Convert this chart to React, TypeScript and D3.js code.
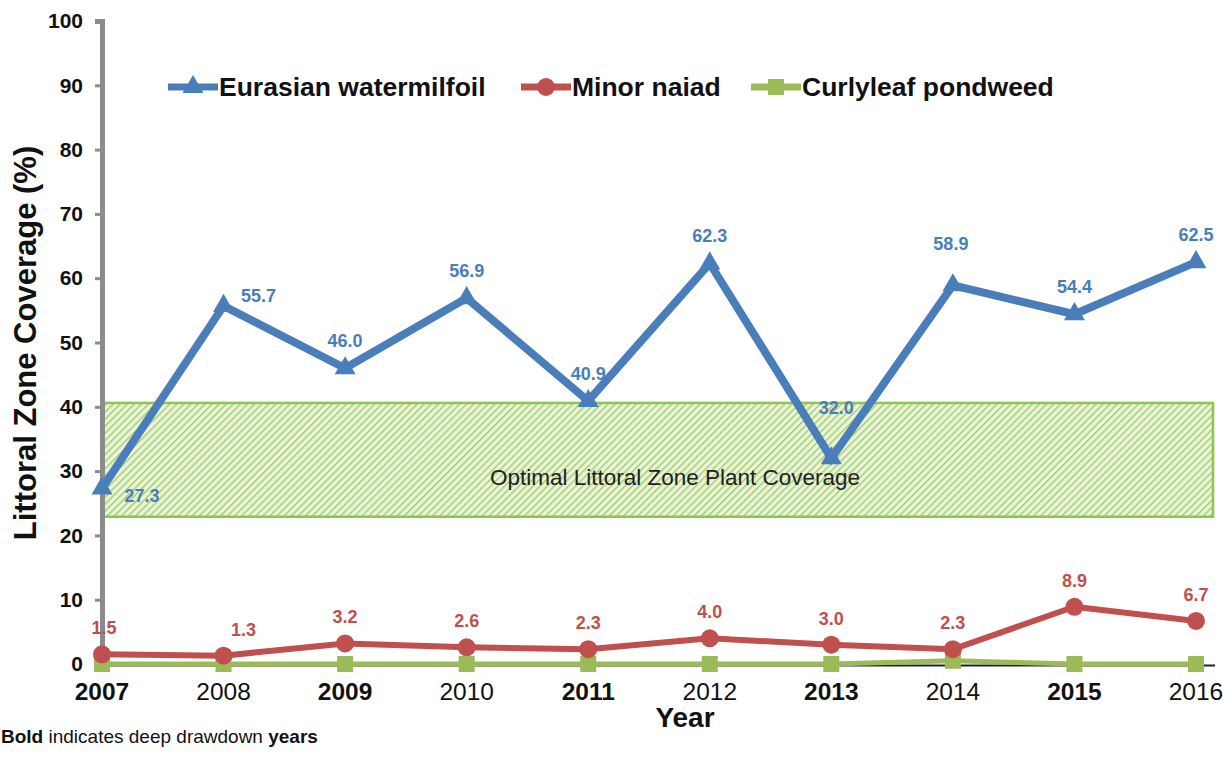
import React, { useEffect, useRef } from "react";
import * as d3 from "d3";

const years = ["2007", "2008", "2009", "2010", "2011", "2012", "2013", "2014", "2015", "2016"];
const deepYears = ["2007", "2009", "2011", "2013", "2015"];
const milfoil = [27.3, 55.7, 46.0, 56.9, 40.9, 62.3, 32.0, 58.9, 54.4, 62.5];
const naiad = [1.5, 1.3, 3.2, 2.6, 2.3, 4.0, 3.0, 2.3, 8.9, 6.7];
const pondweed = [0, 0, 0, 0, 0, 0, 0, 0.5, 0, 0];
const yTicks = [0, 10, 20, 30, 40, 50, 60, 70, 80, 90, 100];
const optimalBand = [22.9, 40.6];

const BLUE = "#4a7ebb";
const RED = "#c0504d";
const GREEN = "#9bbb59";

const App = () => {
  const ref = useRef<SVGSVGElement>(null);

  useEffect(() => {
    const svg = d3.select(ref.current);
    svg.selectAll("*").remove();

    const x = d3.scalePoint().domain(years).range([102, 1196]);
    const y = d3.scaleLinear().domain([0, 100]).range([664, 21]);
    const font = "Liberation Sans, Arial, sans-serif";

    const defs = svg.append("defs");
    const pat = defs.append("pattern")
      .attr("id", "hatch")
      .attr("patternUnits", "userSpaceOnUse")
      .attr("width", 5)
      .attr("height", 5)
      .attr("patternTransform", "rotate(45)");
    pat.append("rect").attr("width", 5).attr("height", 5).attr("fill", "#eaf4da");
    pat.append("line").attr("x1", 0).attr("y1", 0).attr("x2", 0).attr("y2", 5)
      .attr("stroke", "#9ccb5e").attr("stroke-width", 2.6);

    // optimal band
    svg.append("rect")
      .attr("x", 102)
      .attr("y", y(optimalBand[1]))
      .attr("width", 1213 - 102)
      .attr("height", y(optimalBand[0]) - y(optimalBand[1]))
      .attr("fill", "url(#hatch)")
      .attr("stroke", "#8cc551")
      .attr("stroke-width", 2.5);
    svg.append("text")
      .attr("x", 675)
      .attr("y", 485)
      .attr("text-anchor", "middle")
      .attr("font-family", font)
      .attr("font-size", 22.5)
      .attr("fill", "#222")
      .text("Optimal Littoral Zone Plant Coverage");

    // y axis
    const yAxis = svg.append("g")
      .attr("transform", "translate(102,0)")
      .call(d3.axisLeft(y).tickValues(yTicks).tickSize(7).tickPadding(12));
    yAxis.select(".domain").attr("stroke", "#8c8c8c").attr("stroke-width", 5);
    yAxis.selectAll(".tick line").attr("stroke", "#8c8c8c").attr("stroke-width", 3);
    yAxis.selectAll(".tick text")
      .attr("font-family", font)
      .attr("font-size", 21)
      .attr("font-weight", "bold")
      .attr("fill", "#111");

    // x axis
    svg.append("line")
      .attr("x1", 102).attr("x2", 1215)
      .attr("y1", y(0) + 1.5).attr("y2", y(0) + 1.5)
      .attr("stroke", "#222").attr("stroke-width", 2);
    svg.append("g").selectAll("text").data(years).join("text")
      .attr("x", d => x(d)!)
      .attr("y", 700)
      .attr("text-anchor", "middle")
      .attr("font-family", font)
      .attr("font-size", 24.5)
      .attr("font-weight", d => (deepYears.includes(d) ? "bold" : "normal"))
      .attr("fill", "#111")
      .text(d => d);

    const line = d3.line<number>().x((_, i) => x(years[i])!).y(d => y(d));

    // curlyleaf pondweed
    svg.append("path").datum(pondweed).attr("d", line)
      .attr("fill", "none").attr("stroke", GREEN).attr("stroke-width", 5);
    svg.append("g").selectAll("rect").data(pondweed).join("rect")
      .attr("x", (_, i) => x(years[i])! - 8)
      .attr("y", d => y(d) - 8)
      .attr("width", 16).attr("height", 16)
      .attr("fill", GREEN);

    // minor naiad
    svg.append("path").datum(naiad).attr("d", line)
      .attr("fill", "none").attr("stroke", RED).attr("stroke-width", 6);
    svg.append("g").selectAll("circle").data(naiad).join("circle")
      .attr("cx", (_, i) => x(years[i])!)
      .attr("cy", d => y(d))
      .attr("r", 9)
      .attr("fill", RED);
    svg.append("g").selectAll("text").data(naiad).join("text")
      .attr("x", (_, i) => x(years[i])! + (i === 0 ? 2 : i === 1 ? 20 : 0))
      .attr("y", d => y(d) - 20)
      .attr("text-anchor", "middle")
      .attr("font-family", font)
      .attr("font-size", 18)
      .attr("font-weight", "bold")
      .attr("fill", RED)
      .text(d => d.toFixed(1));

    // eurasian watermilfoil
    svg.append("path").datum(milfoil).attr("d", line)
      .attr("fill", "none").attr("stroke", BLUE).attr("stroke-width", 8)
      .attr("stroke-linejoin", "miter");
    const tri = d3.symbol().type(d3.symbolTriangle).size(190);
    svg.append("g").selectAll("path").data(milfoil).join("path")
      .attr("d", tri)
      .attr("transform", (d, i) => `translate(${x(years[i])},${y(d)})`)
      .attr("fill", BLUE);
    const labelOffset = (i: number) => {
      if (i === 0) return [40, 14];
      if (i === 1) return [35, -4];
      if (i === 6) return [5, -44];
      if (i === 7) return [-2, -35];
      return [0, -21];
    };
    svg.append("g").selectAll("text").data(milfoil).join("text")
      .attr("x", (_, i) => x(years[i])! + labelOffset(i)[0])
      .attr("y", (d, i) => y(d) + labelOffset(i)[1])
      .attr("text-anchor", "middle")
      .attr("font-family", font)
      .attr("font-size", 18)
      .attr("font-weight", "bold")
      .attr("fill", BLUE)
      .text(d => d.toFixed(1));

    // legend
    const legend = [
      { name: "Eurasian watermilfoil", color: BLUE, x0: 168, shape: "tri" },
      { name: "Minor naiad", color: RED, x0: 521, shape: "circle" },
      { name: "Curlyleaf pondweed", color: GREEN, x0: 751, shape: "square" },
    ];
    const lg = svg.append("g").selectAll("g").data(legend).join("g")
      .attr("transform", d => `translate(${d.x0},87)`);
    lg.append("line").attr("x1", 0).attr("x2", 50).attr("y1", 0).attr("y2", 0)
      .attr("stroke", d => d.color).attr("stroke-width", 7);
    lg.each(function (d) {
      const g = d3.select(this);
      if (d.shape === "tri") {
        g.append("path").attr("d", tri).attr("transform", "translate(25,0)").attr("fill", d.color);
      } else if (d.shape === "circle") {
        g.append("circle").attr("cx", 25).attr("r", 9).attr("fill", d.color);
      } else {
        g.append("rect").attr("x", 17).attr("y", -8).attr("width", 16).attr("height", 16).attr("fill", d.color);
      }
    });
    lg.append("text")
      .attr("x", 51).attr("y", 9)
      .attr("font-family", font)
      .attr("font-size", 26.5)
      .attr("font-weight", "bold")
      .attr("fill", "#111")
      .text(d => d.name);

    // axis titles
    svg.append("text")
      .attr("transform", "translate(36,343) rotate(-90)")
      .attr("text-anchor", "middle")
      .attr("font-family", font)
      .attr("font-size", 31)
      .attr("font-weight", "bold")
      .attr("fill", "#111")
      .text("Littoral Zone Coverage (%)");
    svg.append("text")
      .attr("x", 685).attr("y", 727)
      .attr("text-anchor", "middle")
      .attr("font-family", font)
      .attr("font-size", 28)
      .attr("font-weight", "bold")
      .attr("fill", "#111")
      .text("Year");

    // footnote
    const note = svg.append("text")
      .attr("x", 1).attr("y", 743)
      .attr("font-family", font)
      .attr("font-size", 19)
      .attr("fill", "#111");
    note.append("tspan").attr("font-weight", "bold").text("Bold");
    note.append("tspan").text(" indicates deep drawdown ");
    note.append("tspan").attr("font-weight", "bold").text("years");
  }, []);

  return (
    <svg
      ref={ref}
      width={1223}
      height={758}
      style={{ position: "absolute", top: 0, left: 0, background: "#fff" }}
    />
  );
};

export default App;
